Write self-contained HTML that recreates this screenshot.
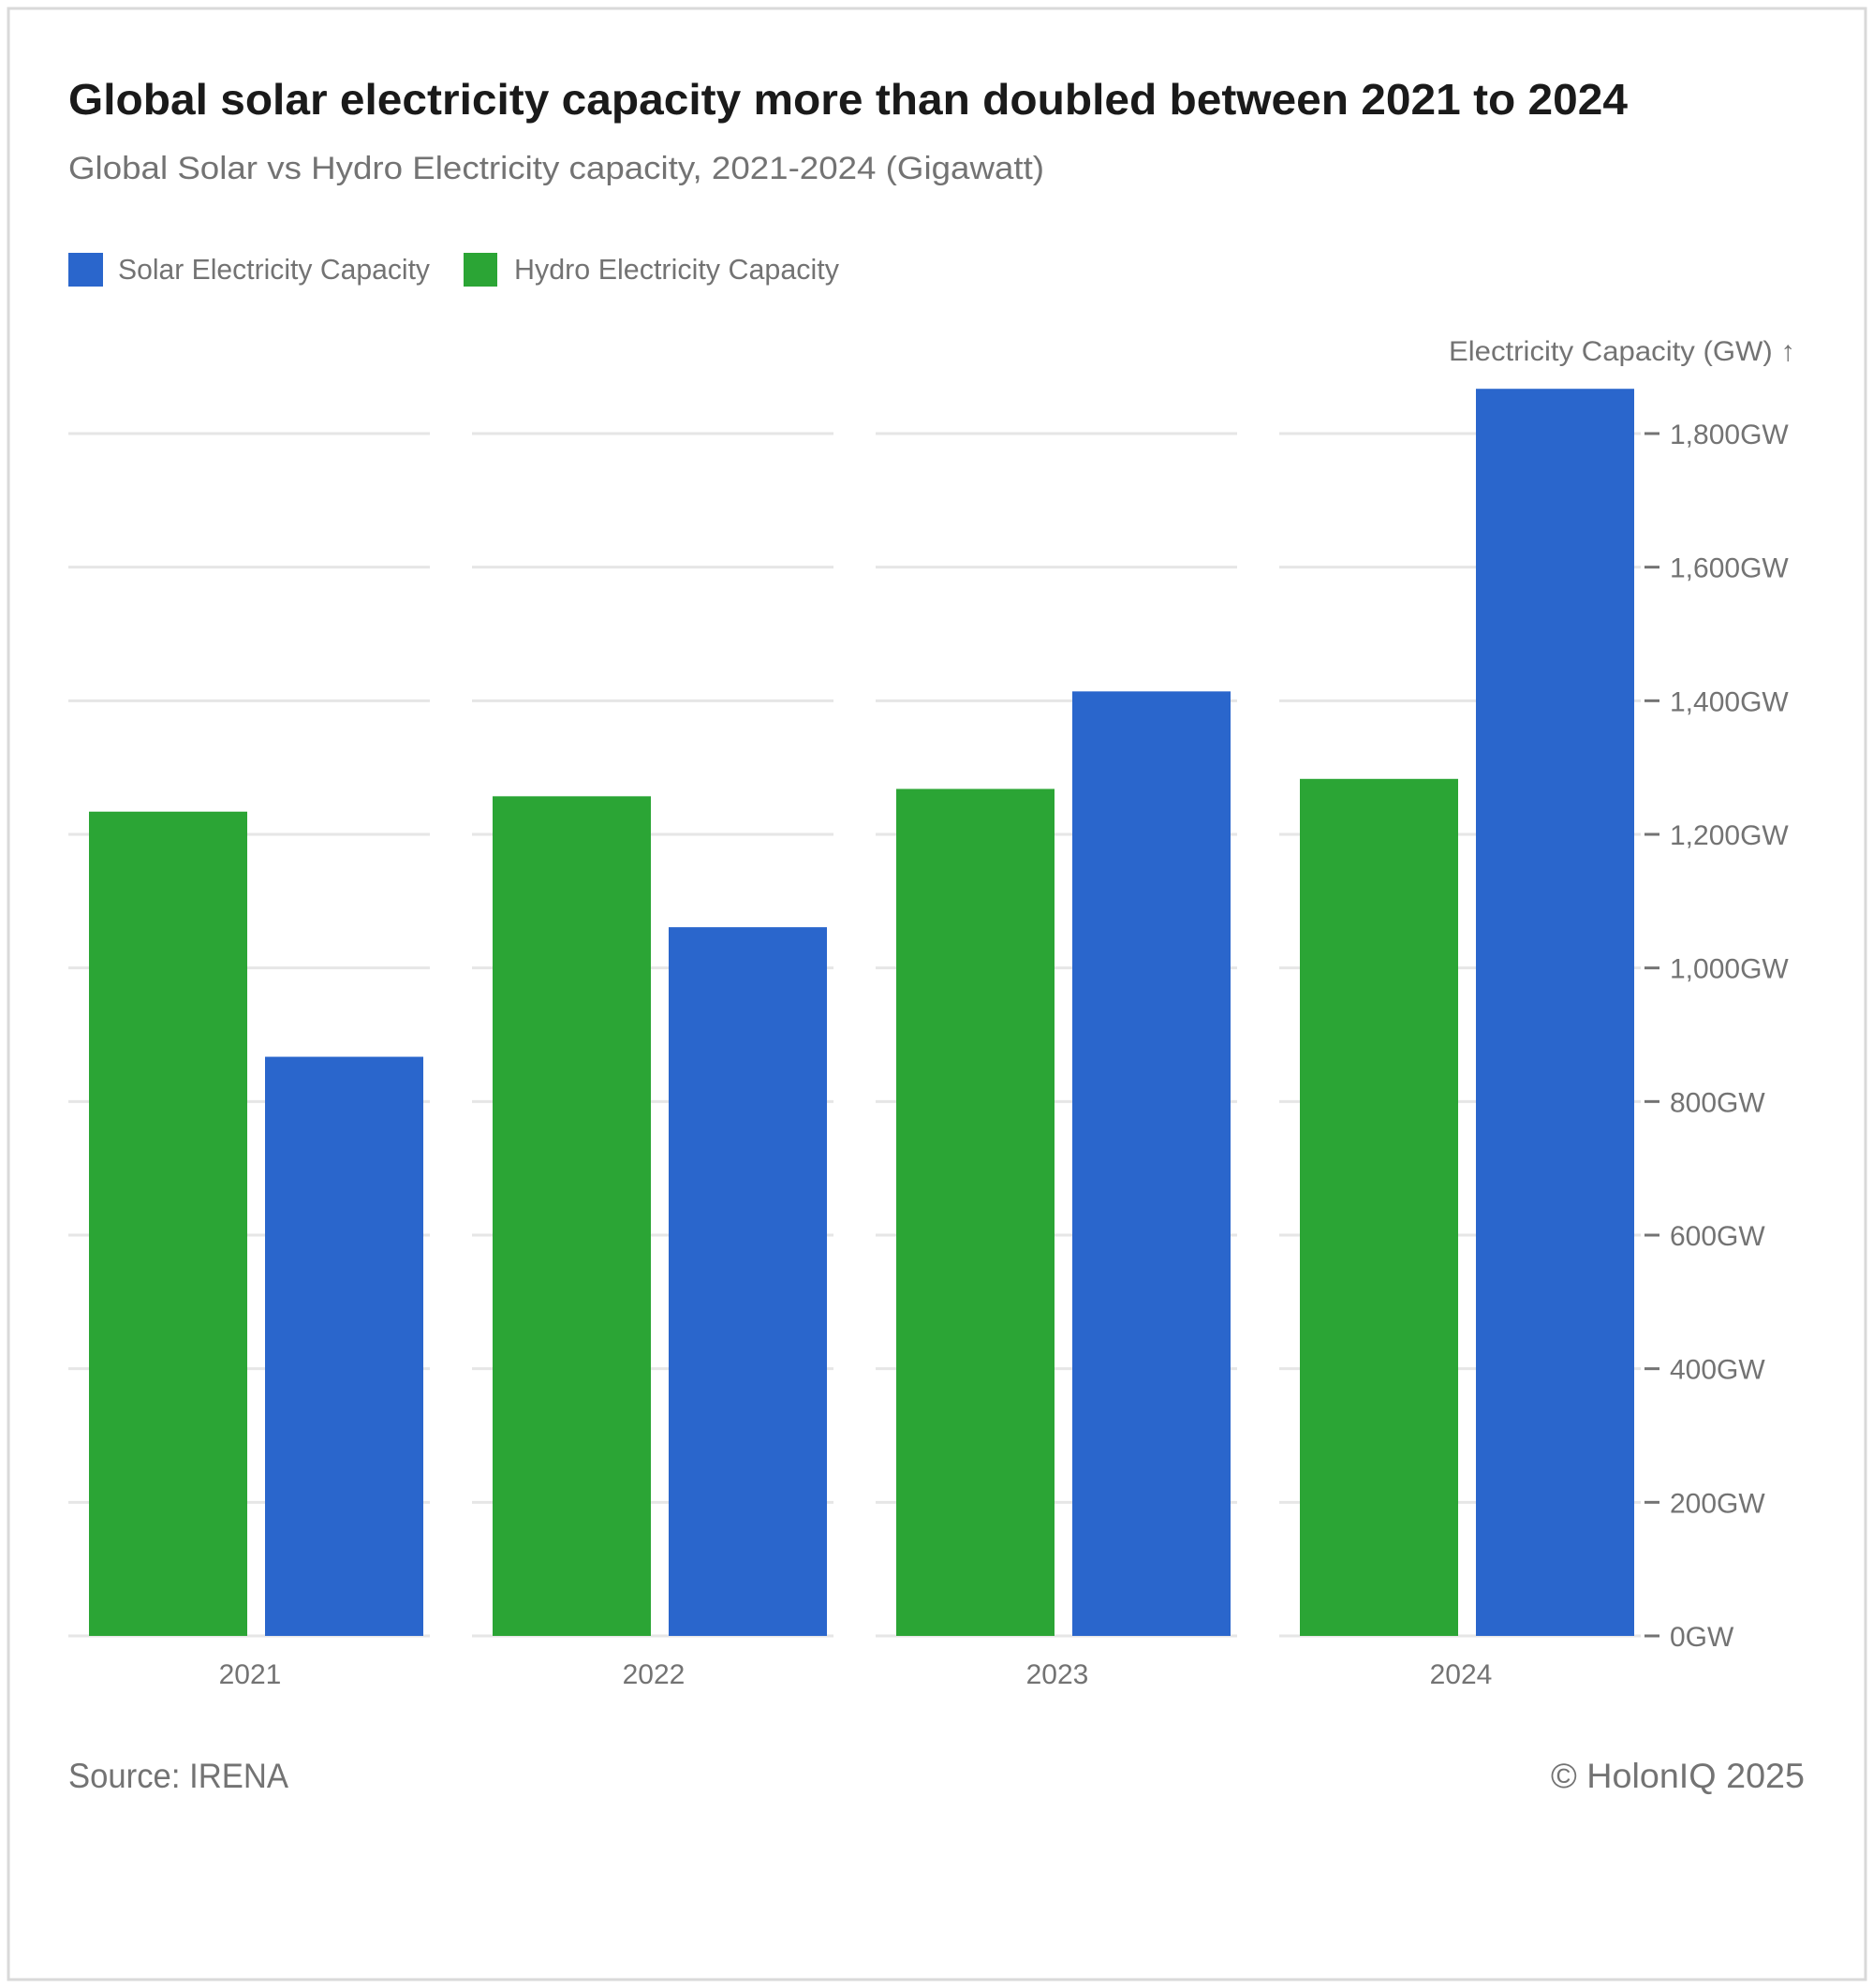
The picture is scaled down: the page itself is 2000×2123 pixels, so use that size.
<!DOCTYPE html>
<html><head><meta charset="utf-8"><style>
html,body{margin:0;padding:0;background:#fff}
svg{display:block}
text{font-family:"Liberation Sans",sans-serif}
</style></head><body>
<svg id="chart" width="2000" height="2123" viewBox="0 0 2000 2123">
<rect x="9" y="9" width="1983" height="2105" fill="#fff" stroke="#d9d9d9" stroke-width="3"/>
<text x="73" y="122" font-size="46" font-weight="bold" fill="#1a1a1a" textLength="1665" lengthAdjust="spacingAndGlyphs">Global solar electricity capacity more than doubled between 2021 to 2024</text>
<text x="73" y="191" font-size="34" fill="#737373" textLength="1042" lengthAdjust="spacingAndGlyphs">Global Solar vs Hydro Electricity capacity, 2021-2024 (Gigawatt)</text>
<g>
<g>
<rect x="73" y="270" width="37" height="36" fill="#2a66cc"/>
<text x="126" y="298" font-size="31" fill="#737373" textLength="333" lengthAdjust="spacingAndGlyphs">Solar Electricity Capacity</text>
</g>
<g>
<rect x="495" y="270" width="36" height="36" fill="#2ba535"/>
<text x="549" y="298" font-size="31" fill="#737373" textLength="347" lengthAdjust="spacingAndGlyphs">Hydro Electricity Capacity</text>
</g>
</g>
<text x="1547" y="385" font-size="30" fill="#737373" textLength="370" lengthAdjust="spacingAndGlyphs">Electricity Capacity (GW) ↑</text>
<g id="plot"></g>
<text x="73" y="1909" font-size="37" fill="#737373" textLength="235" lengthAdjust="spacingAndGlyphs">Source: IRENA</text>
<text x="1656" y="1909" font-size="37" fill="#737373" textLength="271" lengthAdjust="spacingAndGlyphs">© HolonIQ 2025</text>
</svg>
<script>
const categories = ["2021","2022","2023","2024"];
const hydroValues = [1234, 1257, 1268, 1283];
const solarValues = [867, 1061, 1414, 1867];
const yTicks = [0,200,400,600,800,1000,1200,1400,1600,1800];
const yTickLabels = ["0GW","200GW","400GW","600GW","800GW","1,000GW","1,200GW","1,400GW","1,600GW","1,800GW"];

const NS = "http://www.w3.org/2000/svg";
const plot = document.getElementById("plot");
const y0 = 1747, yTop = 463, yMax = 1800;
const y = v => y0 - (v / yMax) * (y0 - yTop);
const bandStart = i => 73 + i * 431;
const bandW = 386;
function mk(tag, attrs) { const e = document.createElementNS(NS, tag); for (const k in attrs) e.setAttribute(k, attrs[k]); plot.appendChild(e); return e; }

yTicks.forEach((t, j) => {
  categories.forEach((c, i) => {
    const g = mk("line", {x1: bandStart(i), x2: bandStart(i) + bandW, y1: y(t), y2: y(t), stroke: "#e6e6e6", "stroke-width": 3});
    
    
  });
  const tk = mk("line", {x1: 1756, x2: 1772, y1: y(t), y2: y(t), stroke: "#737373", "stroke-width": 3});
  
  
  const lb = mk("text", {x: 1783, y: y(t) + 11, "font-size": 30, fill: "#737373"});
  lb.textContent = yTickLabels[j];
  
  
});

categories.forEach((c, i) => {
  const b = bandStart(i);
  const h = mk("rect", {x: b + 22, y: y(hydroValues[i]), width: 169, height: y0 - y(hydroValues[i]), fill: "#2ba535"});
  
  
  const s = mk("rect", {x: b + 210, y: y(solarValues[i]), width: 169, height: y0 - y(solarValues[i]), fill: "#2a66cc"});
  
  
  const l = mk("text", {x: b + 194, y: 1798, "font-size": 30, fill: "#737373", "text-anchor": "middle"});
  l.textContent = c;
  
  
});
</script>
</body></html>
